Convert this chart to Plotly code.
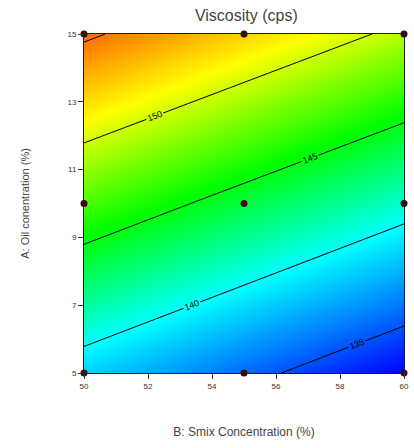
import plotly.graph_objects as go

# Design points (B: Smix %, A: Oil %) and viscosity
smix = [50, 55, 60]
oil = [5, 10, 15]
viscosity = [
    [138.7, 135.7, 132.7],   # A = 5
    [147.0, 144.0, 141.0],   # A = 10
    [155.4, 152.4, 149.4],   # A = 15
]
design_b = [50, 55, 60, 50, 55, 60, 50, 55, 60]
design_a = [5, 5, 5, 10, 10, 10, 15, 15, 15]
x_ticks = [50, 52, 54, 56, 58, 60]
y_ticks = [5, 7, 9, 11, 13, 15]
z_low, z_high = 132.7, 155.4

colorscale = [
    [0.0, "rgb(0,0,255)"],
    [0.32, "rgb(0,255,255)"],
    [0.56, "rgb(0,255,0)"],
    [0.81, "rgb(255,255,0)"],
    [1.0, "rgb(255,105,0)"],
]

fig = go.Figure()
fig.add_trace(go.Contour(
    x=smix, y=oil, z=viscosity,
    colorscale=colorscale, showscale=False,
    zauto=False, zmin=z_low, zmax=z_high,
    contours=dict(start=135, end=155, size=5, coloring="heatmap",
                  showlabels=True,
                  labelfont=dict(size=9, color="black", family="Liberation Sans")),
    line=dict(color="black", width=1),
    hoverinfo="skip",
))
fig.add_trace(go.Scatter(
    x=design_b, y=design_a, mode="markers",
    marker=dict(color="#3a0a0a", size=7),
    cliponaxis=False, hoverinfo="skip", showlegend=False,
))

axis_common = dict(
    showgrid=False, zeroline=False, showline=True, linecolor="#1a1a3a", linewidth=1,
    mirror=True, ticks="outside", ticklen=5, tickcolor="#333",
    tickfont=dict(size=8, color="#333", family="Liberation Sans"),
)
fig.update_layout(
    width=414, height=448,
    margin=dict(l=84, r=5, t=34, b=75),
    paper_bgcolor="white", plot_bgcolor="white",
    title=dict(text="Viscosity (cps)", x=0.595, xanchor="center", y=0.965, yanchor="middle",
               font=dict(size=16, color="#444", family="Liberation Sans")),
    xaxis=dict(range=[50, 60], tickvals=x_ticks,
               title=dict(text="B: Smix Concentration (%)", standoff=38,
                          font=dict(size=12, color="#444", family="Liberation Sans")),
               **axis_common),
    yaxis=dict(range=[5, 15], tickvals=y_ticks,
               title=dict(text="A: Oil conentration (%)", standoff=35,
                          font=dict(size=11, color="#444", family="Liberation Sans")),
               **axis_common),
    showlegend=False,
)
fig.write_html("out.html")
